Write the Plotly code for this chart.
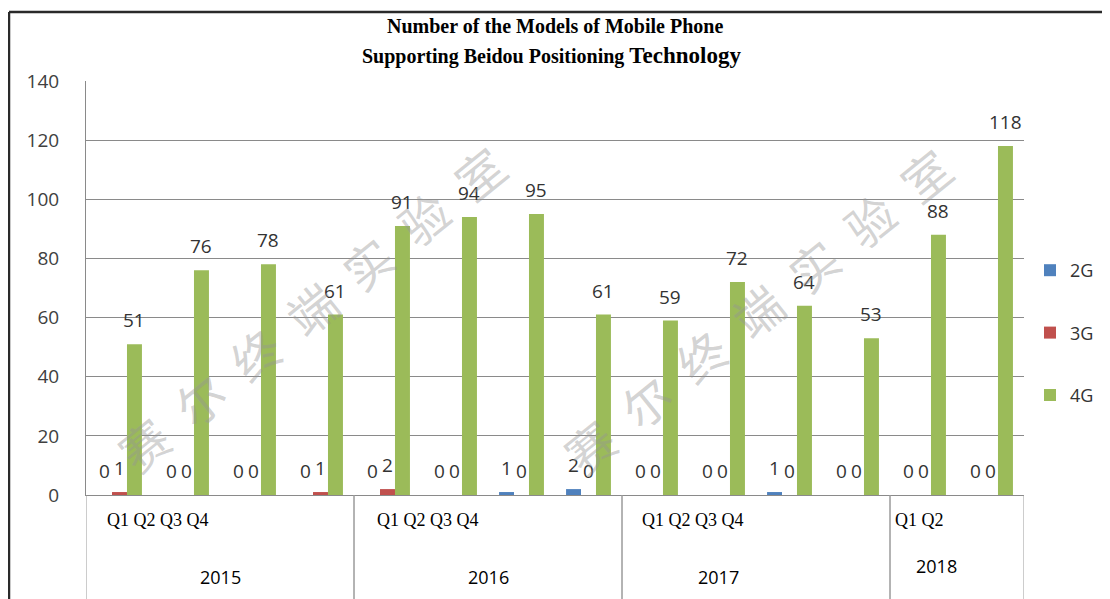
import plotly.graph_objects as go

# chart data
quarters = ["Q1", "Q2", "Q3", "Q4", "Q1", "Q2", "Q3", "Q4",
            "Q1", "Q2", "Q3", "Q4", "Q1", "Q2"]
years = ["2015"] * 4 + ["2016"] * 4 + ["2017"] * 4 + ["2018"] * 2
series_names = ["2G", "3G", "4G"]
models_2g = [0, 0, 0, 0, 0, 0, 1, 2, 0, 0, 1, 0, 0, 0]
models_3g = [1, 0, 0, 1, 2, 0, 0, 0, 0, 0, 0, 0, 0, 0]
models_4g = [51, 76, 78, 61, 91, 94, 95, 61, 59, 72, 64, 53, 88, 118]
y_ticks = [0, 20, 40, 60, 80, 100, 120, 140]

colors = ["#4F81BD", "#C0504D", "#9BBB59"]
sans = "Open Sans"
serif = "Liberation Serif"

# the page body adds an 8px margin, so the figure is drawn 8px smaller
# and all pixel positions below are screen positions minus 8
OFF = 8
W, H = 1110 - OFF, 599 - OFF


def px(x):
    return (x - OFF) / W


def py(y):
    return 1 - (y - OFF) / H


x_left, x_right = 86, 1024      # plot area in screen px
y_top, y_bot = 81, 495

bargap = 0.33
bar_w = (1 - bargap) / 3        # width of one bar in category units

pos = list(range(len(quarters)))
all_series = [models_2g, models_3g, models_4g]

fig = go.Figure()
for name, vals, col in zip(series_names, all_series, colors):
    fig.add_trace(go.Bar(x=pos, y=vals, name=name, marker_color=col,
                         marker_line_width=0, legendgroup=name))

annotations = []
# value labels, a little above every bar
for k, vals in enumerate(all_series):
    off = (k - 1) * bar_w
    for i, v in zip(pos, vals):
        annotations.append(dict(x=i + off, y=v, text=str(v), showarrow=False,
                                xanchor="center", yanchor="middle", yshift=24,
                                font=dict(family=sans, size=19, color="#333333")))

# year groups for the category table under the axis
groups = []
for i, yr in enumerate(years):
    if not groups or groups[-1][0] != yr:
        groups.append([yr, i, i])
    else:
        groups[-1][2] = i

shapes = []
q_shift = [19, 21, 18, 3]
yr_shift = [0, 0, -38, -21]
yr_ypix = [577, 577, 577, 566]
for g, (yr, a, b) in enumerate(groups):
    qs = " ".join(quarters[a:b + 1])
    annotations.append(dict(x=a - 0.5, y=py(520), yref="paper",
                            xanchor="left", yanchor="middle",
                            xshift=q_shift[g], text=qs, showarrow=False,
                            font=dict(family=serif, size=18, color="black")))
    annotations.append(dict(x=(a + b) / 2, y=py(yr_ypix[g]), yref="paper",
                            xanchor="center", yanchor="middle",
                            xshift=yr_shift[g], text=yr, showarrow=False,
                            font=dict(family=sans, size=18, color="black")))
    for xb in (a - 0.5, b + 0.5):
        shapes.append(dict(type="line", xref="x", yref="paper", x0=xb, x1=xb,
                           y0=py(y_bot), y1=0, line=dict(color="#9a9a9a", width=1)))

# watermark
for cx, cy in [(311, 308), (757, 310)]:
    annotations.append(dict(x=px(cx), y=py(cy), xref="paper", yref="paper",
                            xanchor="center", yanchor="middle",
                            text="\u2002".join("赛尔终端实验室"), textangle=-39,
                            showarrow=False,
                            font=dict(family="Noto Sans CJK SC", size=48,
                                      color="rgba(150,150,150,0.42)")))

# title, two lines
annotations.append(dict(x=px(555), y=py(26), xref="paper", yref="paper",
                        xanchor="center", yanchor="middle",
                        text="<b>Number of the Models of Mobile Phone</b>",
                        showarrow=False, font=dict(family=serif, size=20, color="black")))
annotations.append(dict(x=px(551), y=py(55), xref="paper", yref="paper",
                        xanchor="center", yanchor="middle",
                        text="<b>Supporting Beidou Positioning "
                             "<span style='font-size:23px'>Technology</span></b>",
                        showarrow=False, font=dict(family=serif, size=20, color="black")))

# outer frame of the scanned picture
shapes.append(dict(type="line", xref="paper", yref="paper", x0=px(9), x1=1,
                   y0=py(12), y1=py(12), line=dict(color="#2a2a2a", width=2.5)))
shapes.append(dict(type="line", xref="paper", yref="paper", x0=px(9), x1=px(9),
                   y0=0, y1=py(12), line=dict(color="#2a2a2a", width=2.5)))

fig.update_layout(
    width=W, height=H,
    margin=dict(l=0, r=0, t=0, b=0, autoexpand=False),
    paper_bgcolor="white", plot_bgcolor="white",
    barmode="group", bargap=bargap, bargroupgap=0,
    annotations=annotations, shapes=shapes,
    legend=dict(x=px(1030), y=py(333), xanchor="left", yanchor="middle",
                font=dict(family=sans, size=18, color="#333333"),
                tracegroupgap=36, bgcolor="rgba(0,0,0,0)"),
)
fig.update_xaxes(domain=[px(x_left), px(x_right)], range=[-0.5, len(pos) - 0.5],
                 showticklabels=False, showgrid=False, zeroline=False,
                 showline=True, linecolor="#8a8a8a", linewidth=1, ticks="",
                 automargin=False)
fig.update_yaxes(domain=[py(y_bot), py(y_top)], range=[0, 140],
                 tickvals=y_ticks, showgrid=True, gridcolor="#8a8a8a", gridwidth=1,
                 zeroline=False, showline=True, linecolor="#8a8a8a", linewidth=1,
                 ticklabelstandoff=22, automargin=False,
                 tickfont=dict(family=sans, size=19, color="#404040"))

fig.write_html("out.html")
